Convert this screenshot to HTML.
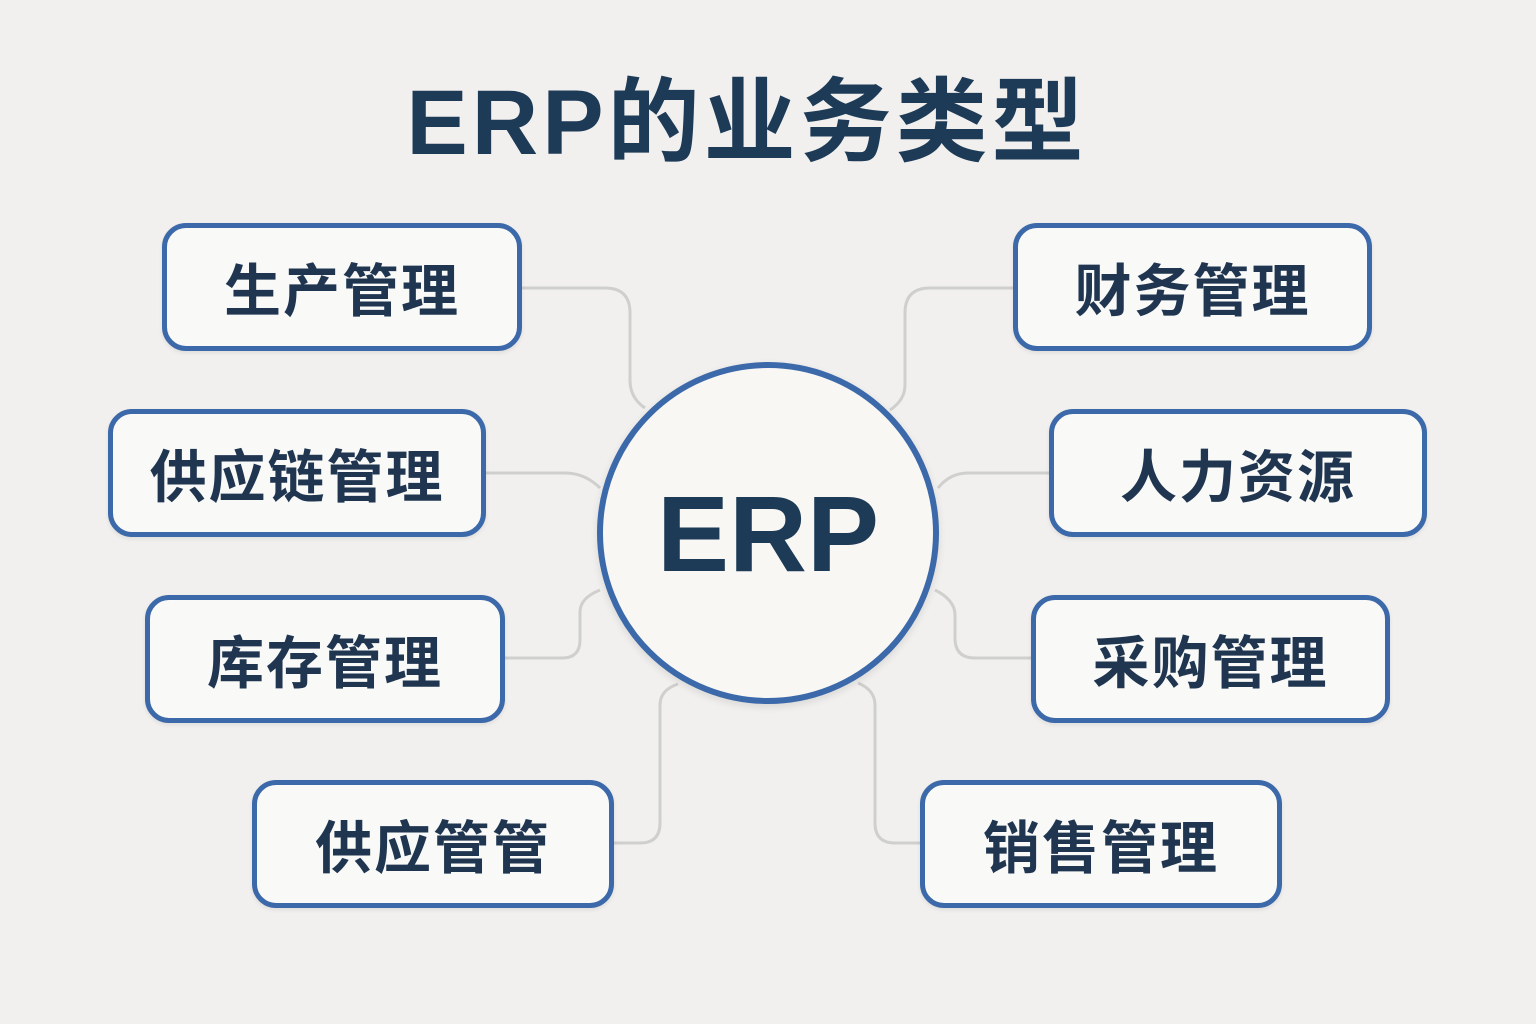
<!DOCTYPE html>
<html><head><meta charset="utf-8"><style>
html,body{margin:0;padding:0}
body{width:1536px;height:1024px;background:#f1f0ee;position:relative;overflow:hidden;font-family:"Liberation Sans","Noto Sans CJK SC",sans-serif}
.title{position:absolute;left:0;width:1494px;top:68px;text-align:center;font-size:92px;font-weight:bold;color:#1d3a56;letter-spacing:4px;line-height:110px}
.box{position:absolute;box-sizing:border-box;border:5px solid #3c69a9;border-radius:24px;background:#f9f9f8;display:flex;align-items:center;justify-content:center;font-size:57px;font-weight:bold;color:#1f3550;letter-spacing:2px;box-shadow:0 2px 4px rgba(0,0,0,0.08)}
.circle{position:absolute;left:597px;top:362px;width:342px;height:342px;box-sizing:border-box;border:6px solid #3c69a9;border-radius:50%;background:#f8f7f4;display:flex;align-items:center;justify-content:center;font-size:108px;font-weight:bold;color:#1d3a56;box-shadow:0 3px 8px rgba(0,0,0,0.1)}
svg{position:absolute;left:0;top:0}
</style></head><body>
<div class="title">ERP的业务类型</div>
<svg width="1536" height="1024" fill="none" stroke="#cfcfcd" stroke-width="3">
<path d="M522 288 H605 Q630 288 630 313 V380 Q630 398 645 408"/>
<path d="M486 473 H565 Q585 473 600 488"/>
<path d="M505 658 H562 Q580 658 580 640 V612 Q580 598 600 590"/>
<path d="M614 843 H640 Q660 843 660 823 V705 Q660 690 678 684"/>
<path d="M1013 288 H930 Q905 288 905 313 V385 Q905 400 890 410"/>
<path d="M1049 473 H968 Q950 473 938 488"/>
<path d="M1031 658 H975 Q955 658 955 638 V615 Q955 600 935 590"/>
<path d="M920 843 H895 Q875 843 875 823 V705 Q875 690 858 683"/>
</svg>
<div class="circle">ERP</div>
<div class="box" style="left:162px;top:223px;width:360px;height:128px">生产管理</div>
<div class="box" style="left:108px;top:409px;width:378px;height:128px">供应链管理</div>
<div class="box" style="left:145px;top:595px;width:360px;height:128px">库存管理</div>
<div class="box" style="left:252px;top:780px;width:362px;height:128px">供应管管</div>
<div class="box" style="left:1013px;top:223px;width:359px;height:128px">财务管理</div>
<div class="box" style="left:1049px;top:409px;width:378px;height:128px">人力资源</div>
<div class="box" style="left:1031px;top:595px;width:359px;height:128px">采购管理</div>
<div class="box" style="left:920px;top:780px;width:362px;height:128px">销售管理</div>
</body></html>
